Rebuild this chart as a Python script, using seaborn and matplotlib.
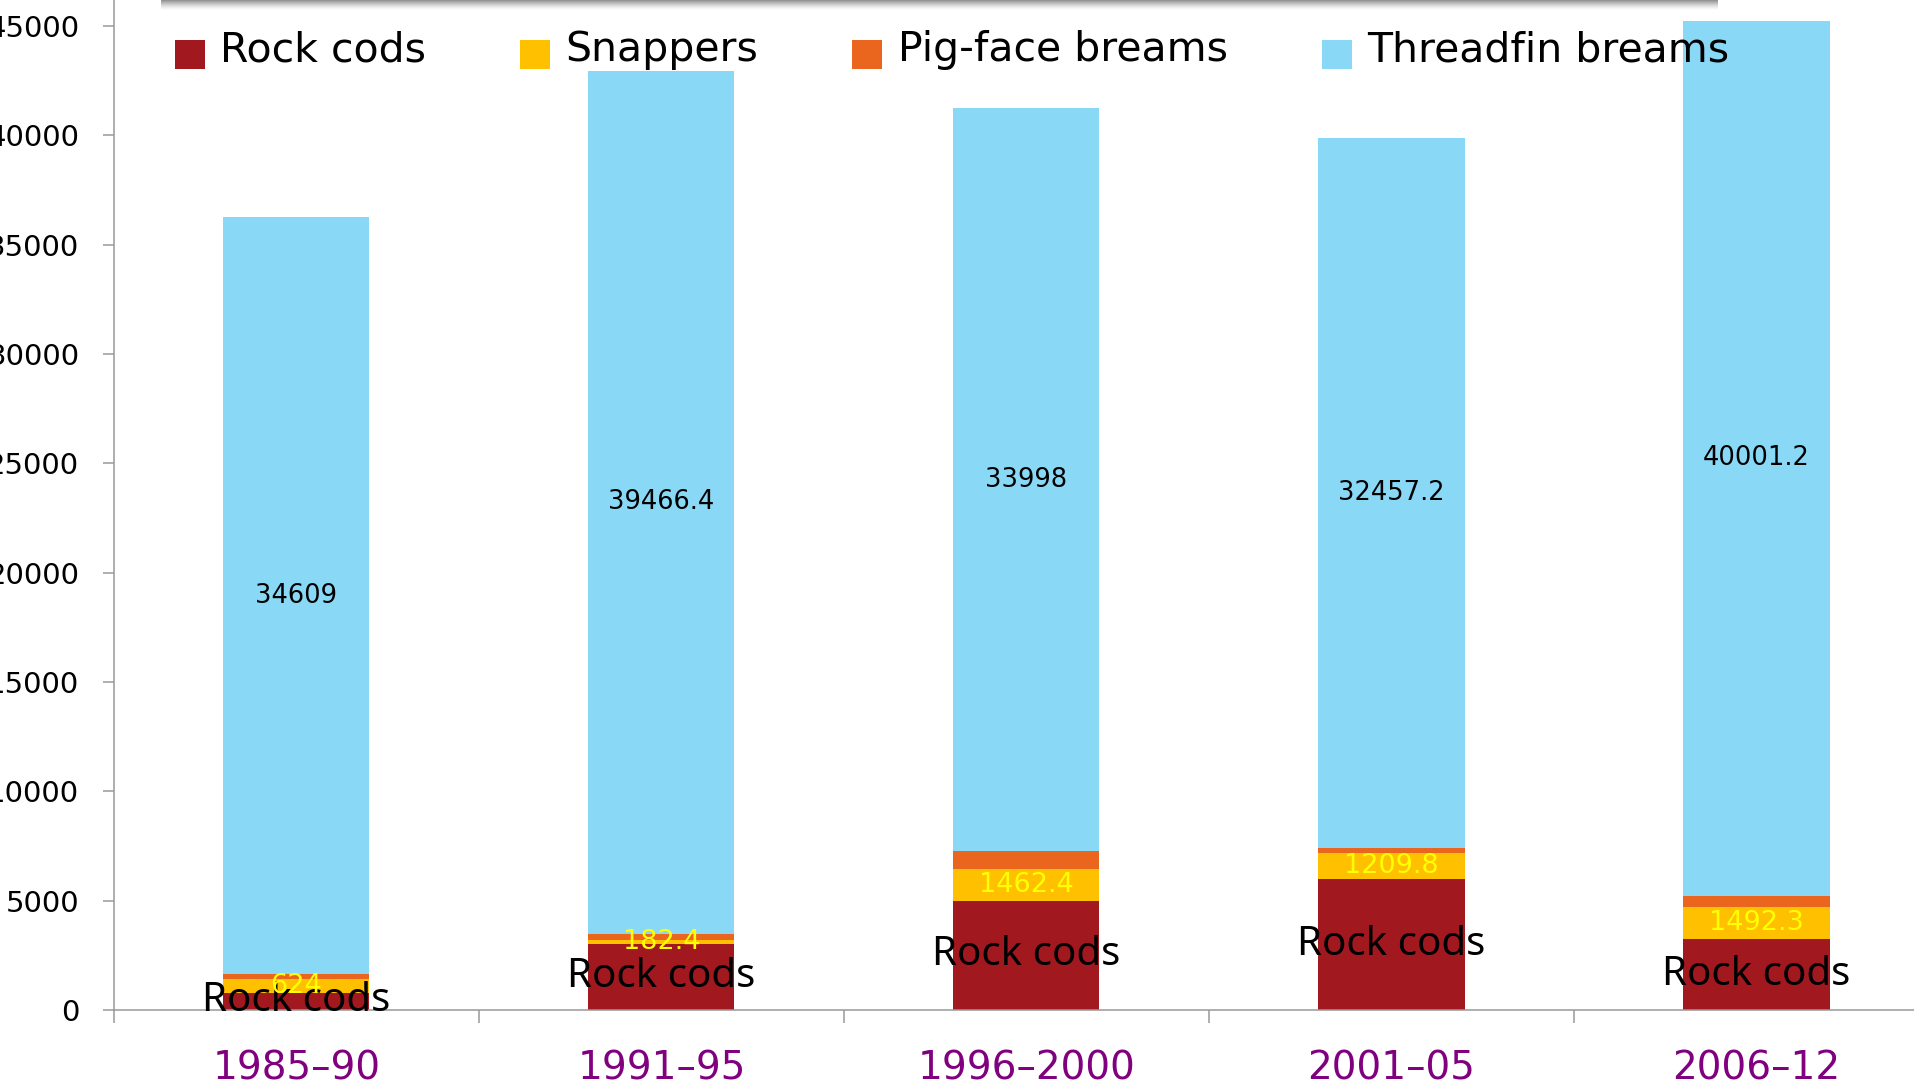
import numpy as np
import pandas as pd
import matplotlib
matplotlib.use("Agg")
import matplotlib.pyplot as plt
import matplotlib.transforms as mtransforms
from matplotlib.patches import Rectangle, Patch
from matplotlib.legend_handler import HandlerPatch
from matplotlib.ticker import FixedLocator
import seaborn as sns

# Catch by period, tonnes
periods = ["1985–90", "1991–95", "1996–2000", "2001–05", "2006–12"]
rock_cods = [790, 3030, 5000, 5980, 3230]
snappers = [624, 182.4, 1462.4, 1209.8, 1492.3]
pig_face_breams = [230, 275, 790, 230, 505]
threadfin_breams = [34609, 39466.4, 33998, 32457.2, 40001.2]

series_names = ["Rock cods", "Snappers", "Pig-face breams", "Threadfin breams"]
series_values = [rock_cods, snappers, pig_face_breams, threadfin_breams]
series_colors = ["#A2181F", "#FFC000", "#EA661F", "#89D8F6"]

sns.set_theme(style="white")
plt.rcParams["font.family"] = ["DejaVu Sans"]

W, H, DPI = 1915, 1086, 100
fig = plt.figure(figsize=(W / DPI, H / DPI), dpi=DPI)

# plot area runs past the right and top edges of the canvas
y_max = 50000
px_per_unit = 984 / 45000
ax_h_px = y_max * px_per_unit
ax = fig.add_axes([114 / W, (H - 1010) / H, 1825 / W, ax_h_px / H])

df = pd.DataFrame({"period": periods})
for name, vals in zip(series_names, series_values):
    df[name] = vals

bottom = np.zeros(len(periods))
containers = []
for name, color in zip(series_names, series_colors):
    n_before = len(ax.containers)
    sns.barplot(data=df, x="period", y=name, order=periods, color=color,
                saturation=1, width=0.4, errorbar=None, bottom=bottom.copy(),
                linewidth=0, ax=ax)
    containers.append(ax.containers[n_before])
    bottom += df[name].to_numpy()

# segment labels
ax.bar_label(containers[0], labels=["Rock cods"] * len(periods),
             label_type="center", color="black", fontsize=29,
             family=["Noto Sans", "DejaVu Sans"], fontweight="medium")
ax.bar_label(containers[1], fmt="%g", label_type="center",
             color="#FFFF00", fontsize=19.5)
ax.bar_label(containers[3], fmt="%g", label_type="center",
             color="black", fontsize=18.5)

ax.set_xlim(-0.5, len(periods) - 0.5)
ax.set_ylim(0, y_max)
ax.set_xlabel("")
ax.set_ylabel("")

ax.set_yticks(np.arange(0, 45001, 5000))
ax.tick_params(axis="y", which="major", left=True, length=7.9, width=1.1,
               color="#999999", pad=17, labelsize=21, labelcolor="black",
               direction="out")

ax.set_xticks(range(len(periods)))
ax.set_xticklabels(periods)
ax.xaxis.set_minor_locator(FixedLocator(np.arange(-0.5, len(periods), 1.0)))
ax.tick_params(axis="x", which="major", bottom=False, length=0, pad=28.5,
               labelsize=28, labelcolor="#800080")
ax.tick_params(axis="x", which="minor", bottom=True, length=9.4, width=1.1,
               color="#999999", direction="out")

for side in ["top", "right"]:
    ax.spines[side].set_visible(False)
for side in ["left", "bottom"]:
    ax.spines[side].set_color("#999999")
    ax.spines[side].set_linewidth(1.1)


# legend row: square swatches sitting slightly below the text baseline
def low_square(legend, orig_handle, xdescent, ydescent, width, height, fontsize):
    return Rectangle((-xdescent, -ydescent - 5.5), width, height)


handles = [Patch(facecolor=c, edgecolor="none") for c in series_colors]
fig.legend(handles, series_names, loc="upper left",
           bbox_to_anchor=(175 / W, 1 - 30 / H),
           bbox_transform=fig.transFigure, ncol=4, frameon=False,
           fontsize=29.5, labelcolor="black",
           handlelength=0.73, handleheight=0.73,
           handletextpad=0.37, columnspacing=2.3, borderpad=0,
           borderaxespad=0,
           handler_map={Patch: HandlerPatch(patch_func=low_square)})

# shadow under the header panel along the top edge
ident = mtransforms.IdentityTransform()
x0, x1 = 157, 1722
n_layers = 10
for k in range(n_layers):
    a = 0.42 * (1 - k / n_layers) ** 1.5
    fig.add_artist(Rectangle((x0 + 4, H - (k + 1)), (x1 - x0) - 8, 1,
                             transform=ident, facecolor="black",
                             edgecolor="none", alpha=a))

fig.savefig("out.png", dpi=DPI)
